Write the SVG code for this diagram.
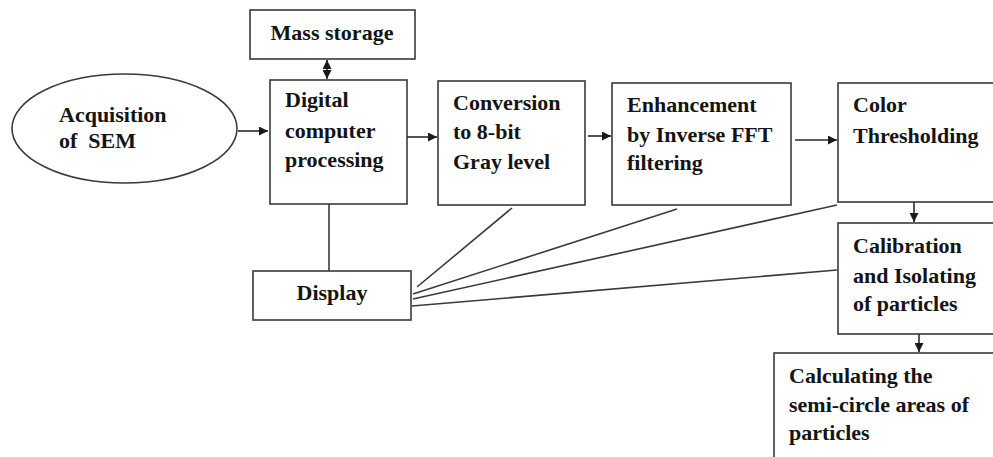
<svg xmlns="http://www.w3.org/2000/svg" width="993" height="457" viewBox="0 0 993 457">
<defs>
<style>
.box{fill:#fff;stroke:#3a3a3a;stroke-width:1.6}
.t{font-family:"Liberation Serif","Times New Roman",serif;font-weight:bold;font-size:22px;fill:#141414}
.c{stroke:#3a3a3a;stroke-width:1.6;fill:none}
.a{stroke:#2a2a2a;stroke-width:1.6;fill:none;marker-end:url(#ah)}
</style>
<marker id="ah" viewBox="0 0 10 10" refX="10" refY="5" markerWidth="10" markerHeight="9" markerUnits="userSpaceOnUse" orient="auto-start-reverse">
<path d="M0,0 L10,5 L0,10 z" fill="#1a1a1a"/>
</marker>
</defs>
<rect width="993" height="457" fill="#fff"/>
<g id="mass-storage">
<rect class="box" x="250" y="10" width="165" height="49"/>
<text class="t" x="332" y="40" text-anchor="middle">Mass storage</text>
</g>
<g id="acquisition">
<ellipse class="box" cx="124.5" cy="128.5" rx="112.5" ry="54.5"/>
<text class="t" x="59" y="122">Acquisition</text>
<text class="t" x="59" y="148" xml:space="preserve">of  SEM</text>
</g>
<g id="digital">
<rect class="box" x="270" y="80" width="137" height="124"/>
<text class="t" x="285" y="107">Digital</text>
<text class="t" x="285" y="138">computer</text>
<text class="t" x="285" y="167">processing</text>
</g>
<g id="conversion">
<rect class="box" x="438" y="81" width="147" height="124"/>
<text class="t" x="453" y="110">Conversion</text>
<text class="t" x="453" y="139">to 8-bit</text>
<text class="t" x="453" y="169">Gray level</text>
</g>
<g id="enhancement">
<rect class="box" x="612" y="83" width="179" height="122"/>
<text class="t" x="627" y="112">Enhancement</text>
<text class="t" x="627" y="142">by Inverse FFT</text>
<text class="t" x="627" y="170">filtering</text>
</g>
<g id="color">
<rect class="box" x="838" y="83" width="170" height="119"/>
<text class="t" x="853" y="112">Color</text>
<text class="t" x="853" y="143">Thresholding</text>
</g>
<g id="calibration">
<rect class="box" x="838" y="223" width="170" height="111"/>
<text class="t" x="853" y="253">Calibration</text>
<text class="t" x="853" y="283">and Isolating</text>
<text class="t" x="853" y="311">of particles</text>
</g>
<g id="calculating">
<rect class="box" x="774" y="353" width="240" height="120"/>
<text class="t" x="789" y="383">Calculating the</text>
<text class="t" x="789" y="412">semi-circle areas of</text>
<text class="t" x="789" y="440">particles</text>
</g>
<g id="display">
<rect class="box" x="253" y="271" width="158" height="49"/>
<text class="t" x="332" y="300" text-anchor="middle">Display</text>
</g>
<g id="connectors">
<path class="a" d="M238,131 H268"/>
<path class="a" d="M327,60 V79" style="marker-start:url(#ah)"/>
<path class="a" d="M407,137 H437"/>
<path class="a" d="M588,136 H611"/>
<path class="a" d="M795,140 H837"/>
<path class="a" d="M914,202 V222"/>
<path class="a" d="M919,334 V352"/>
<path class="c" d="M329,204 V271"/>
<path class="c" d="M417,287 L512,208"/>
<path class="c" d="M413,294 L677,209"/>
<path class="c" d="M413,299 L837,205"/>
<path class="c" d="M412,306 L837,270"/>
</g>
</svg>
